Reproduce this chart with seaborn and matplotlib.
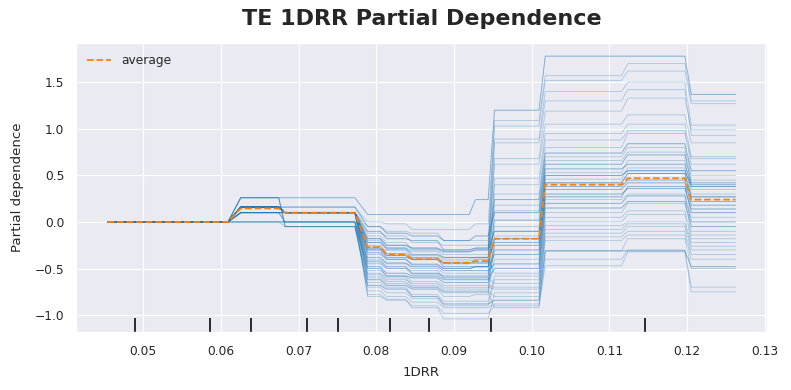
import numpy as np
import pandas as pd
import matplotlib
matplotlib.use("Agg")
import matplotlib.pyplot as plt
import seaborn as sns

# ---------------- data ----------------
# feature-grid plateaus (start / end value of 1DRR for each flat stretch)
plateau_start = [0.04538, 0.06254, 0.06826, 0.07888, 0.08133, 0.08460,
                 0.08868, 0.09277, 0.09522, 0.10175, 0.11237, 0.12055]
plateau_end = [0.06090, 0.06744, 0.07724, 0.08051, 0.08378, 0.08786,
               0.09195, 0.09440, 0.10094, 0.11156, 0.11973, 0.12626]

# average partial dependence on each plateau
average_pd = [0.0, 0.145, 0.10, -0.27, -0.35, -0.40, -0.44, -0.42, -0.18, 0.40, 0.47, 0.24]

# individual (ICE) curves: level on each plateau, one entry per curve
ice_p0 = [0.0] * 38
ice_p1 = [0.26, 0.16, 0.16, 0.16, 0.10, 0.16, 0.16, 0.26, 0.16, 0.10,
          0.16, 0.16, 0.00, 0.16, 0.10, 0.16, 0.16, 0.26, 0.16, 0.10,
          0.16, 0.00, 0.16, 0.10, 0.16, 0.16, 0.10, 0.16, 0.00, 0.16,
          0.16, 0.10, 0.00, 0.16, 0.26, 0.10, 0.16, 0.10]
ice_p2 = [0.26, 0.10, 0.16, 0.10, 0.10, 0.10, 0.10, -0.05, 0.10, 0.00,
          0.10, 0.10, 0.00, 0.16, 0.10, 0.10, 0.10, -0.05, 0.10, 0.10,
          0.10, 0.00, 0.10, 0.00, 0.10, 0.10, 0.10, 0.10, -0.05, 0.10,
          0.10, 0.10, 0.00, 0.10, -0.05, 0.00, 0.10, 0.10]
ice_p3 = [0.08, -0.05, 0.00, -0.12, -0.20, -0.30, -0.15, -0.45, -0.25, -0.40,
          -0.10, -0.22, -0.55, -0.05, -0.30, -0.35, -0.18, -0.62, -0.28, -0.22,
          -0.42, -0.50, -0.33, -0.60, -0.38, -0.48, -0.26, -0.65, -0.70, -0.44,
          -0.52, -0.56, -0.78, -0.58, -0.68, -0.74, -0.62, -0.80]
ice_p4 = [0.08, -0.10, -0.02, -0.15, -0.28, -0.30, -0.22, -0.50, -0.34, -0.45,
          -0.18, -0.30, -0.60, -0.12, -0.38, -0.40, -0.25, -0.68, -0.36, -0.28,
          -0.48, -0.58, -0.40, -0.66, -0.44, -0.55, -0.34, -0.70, -0.76, -0.50,
          -0.58, -0.62, -0.83, -0.64, -0.72, -0.80, -0.68, -0.84]
ice_p5 = [0.08, -0.12, -0.08, -0.22, -0.30, -0.38, -0.30, -0.52, -0.36, -0.50,
          -0.20, -0.32, -0.68, -0.15, -0.40, -0.45, -0.28, -0.72, -0.40, -0.35,
          -0.55, -0.60, -0.46, -0.70, -0.48, -0.58, -0.38, -0.78, -0.82, -0.56,
          -0.64, -0.66, -0.92, -0.70, -0.80, -0.86, -0.72, -0.90]
ice_p6 = [0.08, -0.20, -0.08, -0.25, -0.35, -0.45, -0.30, -0.60, -0.40, -0.55,
          -0.30, -0.38, -0.72, -0.20, -0.48, -0.50, -0.32, -0.80, -0.44, -0.38,
          -0.58, -0.65, -0.50, -0.75, -0.52, -0.62, -0.42, -0.85, -0.90, -0.60,
          -0.68, -0.70, -1.04, -0.74, -0.88, -0.92, -0.76, -0.98]
ice_p7 = [0.24, -0.20, -0.02, -0.25, -0.35, -0.40, -0.28, -0.60, -0.38, -0.55,
          -0.28, -0.38, -0.72, -0.15, -0.48, -0.48, -0.30, -0.78, -0.44, -0.38,
          -0.58, -0.65, -0.48, -0.75, -0.52, -0.62, -0.40, -0.85, -0.90, -0.60,
          -0.68, -0.70, -1.04, -0.74, -0.88, -0.92, -0.76, -0.98]
ice_p8 = [1.20, 1.09, 1.03, 0.89, 0.85, 0.68, 0.62, 0.47, 0.40, 0.30,
          0.24, 0.18, 0.12, 0.10, 0.02, -0.05, -0.10, -0.15, -0.18, -0.22,
          -0.25, -0.30, -0.35, -0.40, -0.45, -0.50, -0.55, -0.58, -0.62, -0.66,
          -0.70, -0.72, -0.76, -0.80, -0.84, -0.88, -0.92, -0.90]
ice_p9 = [1.78, 1.57, 1.52, 1.40, 1.30, 1.19, 1.05, 0.95, 0.88, 0.80,
          0.74, 0.70, 0.66, 0.62, 0.57, 0.53, 0.50, 0.46, 0.42, 0.38,
          0.35, 0.30, 0.27, 0.24, 0.20, 0.15, 0.10, 0.05, 0.00, -0.04,
          -0.08, -0.12, -0.16, -0.20, -0.31, -0.31, -0.40, -0.47]
ice_p10 = [1.78, 1.70, 1.62, 1.50, 1.42, 1.33, 1.15, 1.05, 0.98, 0.95,
           0.84, 0.80, 0.75, 0.72, 0.62, 0.66, 0.55, 0.58, 0.52, 0.45,
           0.42, 0.36, 0.38, 0.30, 0.28, 0.22, 0.20, 0.12, 0.08, 0.00,
           -0.02, -0.05, -0.10, -0.14, -0.31, -0.18, -0.30, -0.32]
ice_p11 = [1.37, 1.30, 1.27, 1.04, 0.93, 0.99, 0.85, 0.70, 0.68, 0.62,
           0.55, 0.50, 0.45, 0.42, 0.40, 0.35, 0.38, 0.30, 0.27, 0.22,
           0.18, 0.14, 0.10, 0.05, 0.00, -0.05, -0.10, -0.14, -0.18, -0.22,
           -0.26, -0.30, -0.35, -0.40, -0.48, -0.50, -0.70, -0.75]
# number of samples sharing each curve
ice_count = [2, 1, 1, 1, 1, 1, 1, 1, 1, 1,
             2, 1, 1, 2, 2, 1, 3, 1, 3, 2,
             2, 2, 2, 1, 2, 2, 1, 1, 1, 1,
             1, 1, 1, 1, 2, 1, 1, 1]

# deciles of 1DRR (rug)
deciles = [0.04891, 0.05863, 0.06389, 0.07109, 0.07503, 0.08171, 0.08680, 0.09474, 0.11457]

# ---------------- build long tables ----------------
ice_levels = [ice_p0, ice_p1, ice_p2, ice_p3, ice_p4, ice_p5, ice_p6,
              ice_p7, ice_p8, ice_p9, ice_p10, ice_p11]
rows = []
unit = 0
for i in range(len(ice_count)):
    for _ in range(ice_count[i]):
        for j in range(len(plateau_start)):
            rows.append((unit, plateau_start[j], ice_levels[j][i]))
            rows.append((unit, plateau_end[j], ice_levels[j][i]))
        unit += 1
ice_df = pd.DataFrame(rows, columns=["unit", "x", "y"])

avg_rows = []
for j in range(len(plateau_start)):
    avg_rows.append((plateau_start[j], average_pd[j]))
    avg_rows.append((plateau_end[j], average_pd[j]))
avg_df = pd.DataFrame(avg_rows, columns=["x", "y"])

# ---------------- plot ----------------
sns.set_theme(context="paper", style="darkgrid")
fig, ax = plt.subplots(figsize=(7.91, 3.90), dpi=100)
fig.subplots_adjust(left=0.0961, right=0.9697, top=0.8897, bottom=0.1487)

sns.lineplot(data=ice_df, x="x", y="y", units="unit", estimator=None,
             color="tab:blue", alpha=0.32, linewidth=0.6, sort=False, ax=ax,
             legend=False)
sns.lineplot(data=avg_df, x="x", y="y", color="tab:orange", linestyle="--",
             linewidth=1.3, sort=False, label="average", ax=ax)

ax.vlines(deciles, 0, 0.05, transform=ax.get_xaxis_transform(), color="k",
          linewidth=1.3)

ax.tick_params(axis="x", pad=4.5)
ax.set_xlabel("1DRR", labelpad=6)
ax.set_ylabel("Partial dependence", labelpad=8)
ax.legend(loc="upper left", frameon=False)
fig.suptitle("TE 1DRR Partial Dependence", fontsize=16, fontweight="bold",
             x=0.533, y=0.978)

fig.savefig("out.png", dpi=100)
